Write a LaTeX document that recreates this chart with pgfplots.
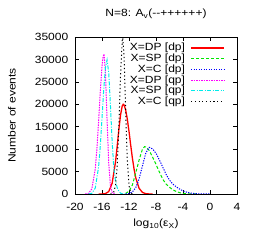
\documentclass[border=0pt]{standalone}
\usepackage{fontspec}
\setmainfont{Liberation Sans}[FakeStretch=1.15]
\usepackage{pgfplots}
\pgfplotsset{compat=1.18}
\definecolor{gpred}{RGB}{255,0,0}
\definecolor{gpgreen}{RGB}{0,230,0}
\definecolor{gpblue}{RGB}{0,0,255}
\definecolor{gpmag}{RGB}{255,0,255}
\definecolor{gpcyan}{RGB}{0,235,235}
\begin{document}
\fontsize{10.5}{12.5}\selectfont
\begin{tikzpicture}
\path[use as bounding box] (-75bp,-48bp) rectangle (183bp,194bp);
\begin{axis}[
  scale only axis, width=162bp, height=157bp,
  xmin=-20, xmax=4, ymin=0, ymax=35000,
  xtick={-20,-16,...,4}, ytick={0,5000,...,35000},
  scaled y ticks=false,
  /pgf/number format/assume math mode=true,
  yticklabel style={/pgf/number format/fixed, /pgf/number format/1000 sep={}, xshift=-3bp},
  xticklabel style={yshift=-6bp},
  tick align=inside, major tick length=4bp,
  axis line style={line width=0.6bp},
  every tick/.style={line width=0.5bp, black},
  title={N=8: A\textsubscript{v}(-{}-++++++)},
  title style={at={(axis description cs:0.5,1)}, anchor=center, yshift=17bp},
  xlabel={log\textsubscript{10}(ε\textsubscript{X})},
  xlabel style={at={(axis description cs:0.5,0)}, anchor=center, yshift=-30bp},
  ylabel={Number of events},
  ylabel style={at={(axis description cs:-0.389,0.5)}, anchor=center},
  legend plot pos=right,
  legend cell align=right,
  legend image code/.code={\draw[#1] (0bp,0bp) -- (33bp,0bp);},
  legend style={draw=none, fill=none, at={(axis description cs:0.926,0.97)}, anchor=north east,
    inner sep=0pt, row sep=-1.4bp, nodes={inner sep=1.5bp}, column sep=4bp},
  every axis plot/.append style={line width=1bp},
]
\addplot[gpred, line width=1.3bp] coordinates {
(-16.5,0) (-16,10) (-15.5,80) (-15,540) (-14.5,2380) (-14,7130) (-13.75,10620) (-13.5,14400)
(-13.25,17650) (-13,19650) (-12.85,20000) (-12.75,19900) (-12.5,18800) (-12.25,16700) (-12,13950)
(-11.75,10920) (-11.5,8040) (-11.25,5560) (-11,3610) (-10.5,1260) (-10,345) (-9.5,73) (-9,12) (-8.5,0)};
\addlegendentry{X=DP [dp]}
\addplot[gpgreen, dash pattern=on 3bp off 2bp] coordinates {
(-12.5,140) (-12,600) (-11.5,2000) (-11,4700) (-10.5,7600) (-10,10030) (-9.7,10550) (-9.5,10480)
(-9,9690) (-8.5,8220) (-8,6600) (-7.5,4900) (-7,3300) (-6.5,2200) (-6,1500) (-5.5,950) (-5,560)
(-4.5,300) (-4,150) (-3.5,70) (-3,30) (-2.5,10) (-2,0)};
\addlegendentry{X=SP [dp]}
\addplot[gpblue, dash pattern=on 1.2bp off 1.3bp] coordinates {
(-12.5,23) (-12,115) (-11.5,457) (-11,1400) (-10.5,3380) (-10,6310) (-9.5,9180) (-9,10400)
(-8.5,10050) (-8,9060) (-7.5,7610) (-7,5980) (-6.5,4370) (-6,3100) (-5.5,2200) (-5,1600)
(-4.5,1100) (-4,700) (-3.5,430) (-3,250) (-2.5,130) (-2,60) (-1.5,25) (-1,10) (0,0)};
\addlegendentry{X=C [dp]}
\addplot[gpmag, dash pattern=on 1.5bp off 1bp] coordinates {
(-18.5,0) (-18,140) (-17.5,1140) (-17,5560) (-16.75,10140) (-16.5,16240) (-16.25,22900) (-16,28460)
(-15.85,30490) (-15.7,31200) (-15.5,27530) (-15.25,16570) (-15,6750) (-14.75,1860) (-14.5,347)
(-14.25,44) (-14,0)};
\addlegendentry{X=DP [qp]}
\addplot[gpcyan, dash pattern=on 4bp off 1.5bp on 1bp off 1.5bp] coordinates {
(-18,13) (-17.5,170) (-17,1314) (-16.5,6070) (-16.25,10780) (-16,16840) (-15.75,23170) (-15.5,28050)
(-15.25,29900) (-15,26970) (-14.75,19790) (-14.5,11800) (-14.25,5730) (-14,3000) (-13.75,1400)
(-13.5,600) (-13.25,200) (-13,50) (-12.5,0)};
\addlegendentry{X=SP [qp]}
\addplot[black, dash pattern=on 1.2bp off 2.5bp] coordinates {
(-14.75,0) (-14.5,74) (-14.25,440) (-14,1950) (-13.75,6360) (-13.5,15170) (-13.25,26600) (-13,34250)
(-12.92,34800) (-12.75,31500) (-12.5,18890) (-12.25,7350) (-12,1850) (-11.75,304) (-11.5,35) (-11.25,0)};
\addlegendentry{X=C [qp]}
\end{axis}
\end{tikzpicture}
\end{document}
